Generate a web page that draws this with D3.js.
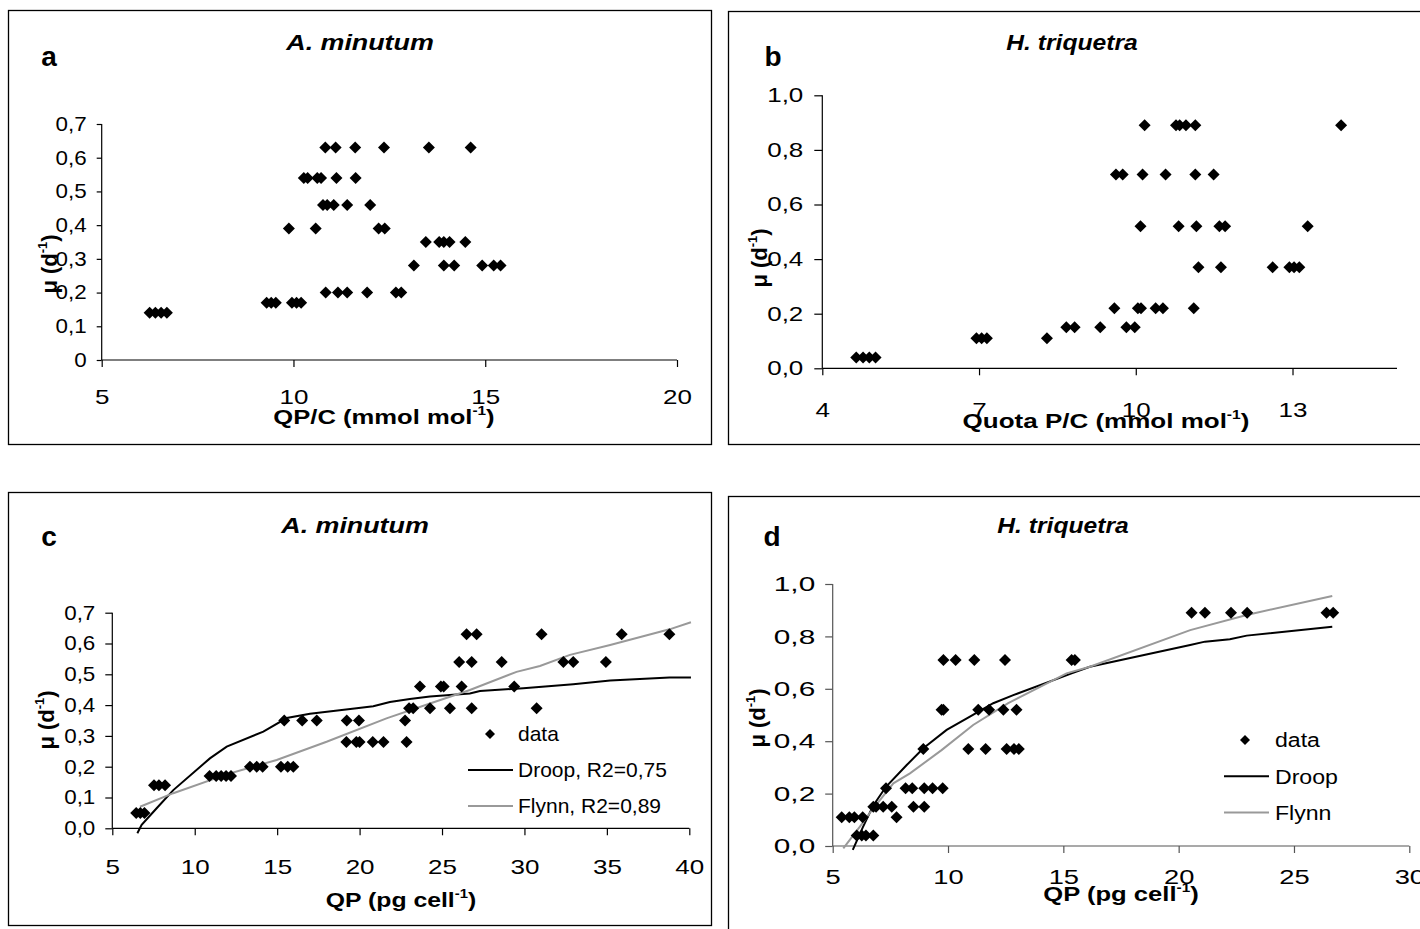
<!DOCTYPE html>
<html><head><meta charset="utf-8">
<script src="https://cdn.jsdelivr.net/npm/d3@7"></script>
<style>
body{margin:0;background:#fff}
svg{display:block}
text{font-family:"Liberation Sans",Arial,sans-serif}
</style>
</head><body>
<svg id="chart" width="1420" height="929"></svg>
<script>
// ---------- data ----------
// Panel a: A. minutum, QP/C vs growth rate
const aQuota = [6.25,6.4,6.55,6.7, 9.3,9.42,9.54,9.96,10.08,10.2, 10.84,11.16,11.4,11.92,12.67,12.81,
  13.14,13.92,14.19,14.92,15.22,15.4, 13.45,13.8,13.92,14.07,14.48, 9.88,10.58,12.22,12.38,
  10.77,10.88,11.05,11.4,12.0, 10.27,10.37,10.62,10.72,11.12,11.62, 10.83,11.1,11.61,12.36,13.53,14.62];
const aMu = [0.14,0.14,0.14,0.14, 0.17,0.17,0.17,0.17,0.17,0.17, 0.2,0.2,0.2,0.2,0.2,0.2,
  0.28,0.28,0.28,0.28,0.28,0.28, 0.35,0.35,0.35,0.35,0.35, 0.39,0.39,0.39,0.39,
  0.46,0.46,0.46,0.46,0.46, 0.54,0.54,0.54,0.54,0.54,0.54, 0.63,0.63,0.63,0.63,0.63,0.63];

// Panel b: H. triquetra, Quota P/C vs growth rate
const bQuota = [4.65,4.78,4.9,5.02, 6.95,7.05,7.15,8.3, 8.67,8.83,9.32,9.82,9.98,
  9.59,10.04,10.1,10.38,10.52,11.11, 11.2,11.63,12.62,12.94,13.03,13.13,
  10.09,10.82,11.16,11.6,11.71,13.29, 9.62,9.75,10.13,10.57,11.14,11.49,
  10.17,10.77,10.84,10.96,11.14,13.93];
const bMu = [0.04,0.04,0.04,0.04, 0.11,0.11,0.11,0.11, 0.15,0.15,0.15,0.15,0.15,
  0.22,0.22,0.22,0.22,0.22,0.22, 0.37,0.37,0.37,0.37,0.37,0.37,
  0.52,0.52,0.52,0.52,0.52,0.52, 0.71,0.71,0.71,0.71,0.71,0.71,
  0.89,0.89,0.89,0.89,0.89,0.89];

// Panel c: A. minutum, QP (pg/cell) vs growth rate + fits
const cQP = [6.45,6.7,6.95, 7.53,7.83,8.2, 10.9,11.3,11.6,11.9,12.2, 13.35,13.76,14.12,15.23,15.64,15.98,
  19.2,19.8,20.0,20.8,21.45,22.85, 15.43,16.52,17.4,19.22,19.96,22.76,
  23.0,23.25,24.27,25.48,26.8,30.74, 23.66,24.93,25.1,26.19,29.38,
  26.04,26.8,28.62,32.36,32.96,34.94, 26.49,27.1,31.04,35.9,38.79];
const cMu = [0.05,0.05,0.05, 0.14,0.14,0.14, 0.17,0.17,0.17,0.17,0.17, 0.2,0.2,0.2,0.2,0.2,0.2,
  0.28,0.28,0.28,0.28,0.28,0.28, 0.35,0.35,0.35,0.35,0.35,0.35,
  0.39,0.39,0.39,0.39,0.39,0.39, 0.46,0.46,0.46,0.46,0.46,
  0.54,0.54,0.54,0.54,0.54,0.54, 0.63,0.63,0.63,0.63,0.63];
const cDroopQ  = [6.52,6.78,7.69,8.7,10.92,11.94,14.16,15.58,16.99,19.82,20.83,21.84,23.05,24.27,26.69,27.3,29.93,32.96,35.2,38.8,40.1];
const cDroopMu = [-0.016,0.011,0.065,0.124,0.227,0.265,0.314,0.358,0.372,0.39,0.396,0.41,0.42,0.428,0.438,0.446,0.455,0.468,0.48,0.49,0.49];
const cFlynnQ  = [6.68,8.7,11.94,14.97,18.0,21.63,24.27,26.69,29.52,30.94,32.76,35.2,38.8,40.1];
const cFlynnMu = [0.07,0.114,0.175,0.222,0.281,0.357,0.405,0.449,0.508,0.527,0.563,0.595,0.646,0.669];

// Panel d: H. triquetra, QP (pg/cell) vs growth rate + fits
const dQP = [5.39,5.72,5.94,6.3,7.77, 6.04,6.26,6.44,6.76, 6.76,6.88,7.19,7.56,8.5,8.97,
  7.31,8.16,8.45,8.97,9.33,9.77, 8.93,10.88,11.63,12.54,12.86,13.07,
  9.72,9.8,11.31,11.78,12.4,12.97, 9.8,10.33,11.14,12.47,15.36,15.5,
  20.56,21.14,22.27,22.97,26.41,26.7];
const dMu = [0.11,0.11,0.11,0.11,0.11, 0.04,0.04,0.04,0.04, 0.15,0.15,0.15,0.15,0.15,0.15,
  0.22,0.22,0.22,0.22,0.22,0.22, 0.37,0.37,0.37,0.37,0.37,0.37,
  0.52,0.52,0.52,0.52,0.52,0.52, 0.71,0.71,0.71,0.71,0.71,0.71,
  0.89,0.89,0.89,0.89,0.89,0.89];
const dDroopQ  = [5.87,6.3,6.76,7.31,8.21,8.93,9.94,10.95,11.96,12.83,15.36,16.15,20.5,21.14,22.22,22.95,26.66];
const dDroopMu = [-0.015,0.07,0.155,0.226,0.309,0.373,0.443,0.494,0.545,0.576,0.659,0.684,0.767,0.78,0.789,0.803,0.837];
const dFlynnQ  = [5.46,6.18,6.76,7.63,8.35,9.72,11.09,12.61,15.14,16.15,20.5,22.95,26.66];
const dFlynnMu = [-0.009,0.074,0.144,0.239,0.277,0.366,0.462,0.545,0.659,0.684,0.824,0.882,0.954];

// ticks
const aXTicks = [5,10,15,20];
const aYTicks = [0,0.1,0.2,0.3,0.4,0.5,0.6,0.7];
const bXTicks = [4,7,10,13];
const bYTicks = [0,0.2,0.4,0.6,0.8,1.0];
const cXTicks = [5,10,15,20,25,30,35,40];
const cYTicks = [0,0.1,0.2,0.3,0.4,0.5,0.6,0.7];
const dXTicks = [5,10,15,20,25,30];
const dYTicks = [0,0.2,0.4,0.6,0.8,1.0];

const legendLabelsC = ["data","Droop, R2=0,75","Flynn, R2=0,89"];
const legendLabelsD = ["data","Droop","Flynn"];

// ---------- drawing ----------
const svg = d3.select("#chart");
const comma = d => d.toFixed(1).replace(".", ",");
const commaA = d => d === 0 ? "0" : comma(d);
const diamondPath = r => `M0,${-r}L${r},0L0,${r}L${-r},0Z`;

// panel frames
[[8.5,10.5,703,434],[728.5,11.5,720,433],[8.5,492.5,703,433],[728.5,496.5,720,460]].forEach(b=>{
  svg.append("rect").attr("x",b[0]).attr("y",b[1]).attr("width",b[2]).attr("height",b[3])
    .attr("fill","none").attr("stroke","#000").attr("stroke-width",1.3);
});

function panel(cfg){
  const x = d3.scaleLinear().domain(cfg.xd).range(cfg.xr);
  const y = d3.scaleLinear().domain(cfg.yd).range(cfg.yr);
  const g = svg.append("g");
  const axCol = cfg.axisColor || "#000";

  // y axis
  const ya = g.append("g").attr("transform",`translate(${cfg.xr[0]},0)`)
    .call(d3.axisLeft(y).tickValues(cfg.yt).tickFormat(cfg.yf).tickSize(cfg.ytl).tickSizeOuter(0).tickPadding(cfg.ypad));
  ya.select(".domain").attr("stroke",axCol).attr("stroke-width",1.2)
    .attr("d",`M0,${cfg.yr[0]}V${cfg.yr[1]}`);
  ya.selectAll(".tick line").attr("stroke",axCol).attr("stroke-width",1.2);
  ya.selectAll(".tick text").attr("font-size",cfg.fs).attr("fill","#000").attr("font-family","Liberation Sans, Arial")
    .each(function(){
      const t=d3.select(this); const xx=+t.attr("x");
      t.attr("transform",`translate(${xx*(1-cfg.ysx)},0) scale(${cfg.ysx},1)`);
    });

  // x axis
  const xa = g.append("g").attr("transform",`translate(0,${cfg.yr[0]})`)
    .call(d3.axisBottom(x).tickValues(cfg.xt).tickFormat(d3.format("d")).tickSize(cfg.xtl).tickSizeOuter(0));
  xa.select(".domain").attr("stroke",axCol).attr("stroke-width",1.2)
    .attr("d",`M${cfg.xr[0]},0H${cfg.xr[1]}`);
  xa.selectAll(".tick line").attr("stroke",axCol).attr("stroke-width",1.2);
  xa.selectAll(".tick text").attr("font-size",cfg.fs).attr("fill","#000").attr("font-family","Liberation Sans, Arial")
    .attr("y",cfg.xlab).attr("dy","0.35em")
    .attr("transform",`scale(${cfg.xsx},1)`);

  // fit lines
  const line = d3.line().x(d=>x(d[0])).y(d=>y(d[1]));
  (cfg.lines||[]).forEach(L=>{
    g.append("path").datum(d3.zip(L.q,L.m)).attr("d",line)
      .attr("fill","none").attr("stroke",L.color).attr("stroke-width",L.w);
  });

  // points
  g.append("g").selectAll("path").data(d3.zip(cfg.px,cfg.py)).join("path")
    .attr("d",diamondPath(6)).attr("fill","#000")
    .attr("transform",d=>`translate(${x(d[0])},${y(d[1])})`);

  // legend
  if(cfg.legend){
    const Lg = cfg.legend;
    const lg = g.append("g");
    lg.append("path").attr("d",diamondPath(5)).attr("fill","#000")
      .attr("transform",`translate(${Lg.mx},${Lg.y0})`);
    [["#000",Lg.y0+Lg.dy],["#999",Lg.y0+2*Lg.dy]].forEach(s=>{
      lg.append("line").attr("x1",Lg.lx1).attr("x2",Lg.lx2).attr("y1",s[1]).attr("y2",s[1])
        .attr("stroke",s[0]).attr("stroke-width",2);
    });
    Lg.labels.forEach((t,i)=>{
      lg.append("text").attr("x",Lg.tx).attr("y",Lg.y0+i*Lg.dy).attr("dy","0.35em")
        .attr("font-size",Lg.fs).text(t)
        .attr("transform",`translate(${Lg.tx*(1-Lg.sx)},0) scale(${Lg.sx},1)`);
    });
  }

  // panel letter
  g.append("text").attr("x",cfg.letter[1]).attr("y",cfg.letter[2]).text(cfg.letter[0])
    .attr("font-family","Liberation Serif, Times New Roman").attr("font-weight","bold").attr("font-size",28)
    .attr("text-anchor","middle");

  // title
  g.append("text").attr("text-anchor","middle").attr("font-weight","bold").attr("font-style","italic")
    .attr("font-size",22).text(cfg.title[0])
    .attr("transform",`translate(${cfg.title[1]},${cfg.title[2]}) scale(${cfg.title[3]},1)`);

  // x title with superscript
  const xt = g.append("text").attr("text-anchor","middle").attr("font-weight","bold").attr("font-size",20)
    .attr("transform",`translate(${cfg.xtitle[2]},${cfg.xtitle[3]}) scale(${cfg.xtitle[4]},1)`);
  xt.append("tspan").text(cfg.xtitle[0]);
  xt.append("tspan").attr("font-size",12).attr("dy",-9).text("-1");
  xt.append("tspan").attr("dy",9).text(cfg.xtitle[1]);

  // y title (rotated)
  const yt = g.append("text").attr("text-anchor","middle").attr("font-weight","bold").attr("font-size",22)
    .attr("dy","0.35em")
    .attr("transform",`translate(${cfg.ytitle[0]},${cfg.ytitle[1]}) rotate(-90)`);
  yt.append("tspan").text("μ (d");
  yt.append("tspan").attr("font-size",13).attr("dy",-10).text("-1");
  yt.append("tspan").attr("dy",10).text(")");
}

panel({xd:[5,20],xr:[101.7,677],yd:[0,0.7],yr:[360,124],xt:aXTicks,yt:aYTicks,yf:commaA,
  fs:20,ysx:1.12,xsx:1.3,ytl:5,ypad:10,xtl:7,xlab:37,
  px:aQuota,py:aMu,letter:["a",49,66],title:["A. minutum",360,50,1.22],
  xtitle:["QP/C (mmol mol",")",384,424,1.28],ytitle:[49,264]});

panel({xd:[4,15],xr:[822.3,1397],yd:[0,1],yr:[368.3,95.3],xt:bXTicks,yt:bYTicks,yf:comma,
  fs:20,ysx:1.3,xsx:1.3,ytl:8,ypad:11,xtl:7,xlab:42,
  px:bQuota,py:bMu,letter:["b",773,66],title:["H. triquetra",1072,50,1.12],
  xtitle:["Quota P/C (mmol mol",")",1106,428,1.3],ytitle:[759,258]});

panel({xd:[5,40],xr:[112.3,689.3],yd:[0,0.7],yr:[828.3,612.7],xt:cXTicks,yt:cYTicks,yf:comma,
  fs:20,ysx:1.12,xsx:1.3,ytl:7,ypad:10,xtl:7,xlab:39,
  px:cQP,py:cMu,letter:["c",49,546],title:["A. minutum",355,533,1.22],
  xtitle:["QP (pg cell",")",401,907,1.24],ytitle:[46,720],
  lines:[{q:cDroopQ,m:cDroopMu,color:"#000",w:2},{q:cFlynnQ,m:cFlynnMu,color:"#999",w:2}],
  legend:{mx:490,y0:734,dy:36,lx1:468,lx2:513,tx:518,fs:21,sx:1.0,labels:legendLabelsC}});

panel({xd:[5,30],xr:[832.7,1409.3],yd:[0,1],yr:[846,584],xt:dXTicks,yt:dYTicks,yf:comma,
  fs:21,ysx:1.42,xsx:1.3,ytl:7.5,ypad:10,xtl:7,xlab:31,axisColor:"#555",
  px:dQP,py:dMu,letter:["d",772,546],title:["H. triquetra",1063,533,1.12],
  xtitle:["QP (pg cell",")",1121,901,1.28],ytitle:[757,718],
  lines:[{q:dDroopQ,m:dDroopMu,color:"#000",w:2},{q:dFlynnQ,m:dFlynnMu,color:"#999",w:2}],
  legend:{mx:1245,y0:740,dy:36.3,lx1:1224,lx2:1269,tx:1275,fs:21,sx:1.1,labels:legendLabelsD}});
</script>
</body></html>
